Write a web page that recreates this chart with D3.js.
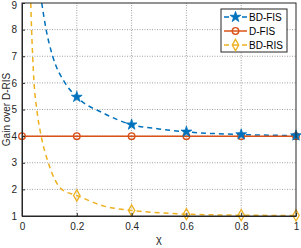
<!DOCTYPE html>
<html>
<head>
<meta charset="utf-8">
<script src="https://cdn.jsdelivr.net/npm/d3@7"></script>
<style>
  body { margin: 0; background: #fff; }
  svg { display: block; font-family: "Liberation Sans", Arial, sans-serif; }
</style>
</head>
<body>
<div id="chart"></div>
<script>
// marker points
var chi = [0.2, 0.4, 0.6, 0.8, 1];
var bdFis = [5.47, 4.43, 4.16, 4.06, 4.02];
var dFis = [4, 4, 4, 4, 4, 4];
var dFisX = [0, 0.2, 0.4, 0.6, 0.8, 1];
var bdRis = [1.77, 1.21, 1.07, 1.03, 1.02];

// dashed curves
var bdFisCurveX = [0.072, 0.088, 0.112, 0.157, 0.2, 0.3, 0.4, 0.5, 0.6, 0.8, 1];
var bdFisCurveY = [9, 8, 7, 6, 5.47, 4.85, 4.43, 4.27, 4.16, 4.06, 4.02];
var bdRisCurveX = [0.032, 0.035, 0.039, 0.044, 0.054, 0.07, 0.096, 0.145, 0.2, 0.3, 0.4, 0.5, 0.6, 0.8, 1];
var bdRisCurveY = [9, 8, 7, 6, 5, 4, 3, 2, 1.77, 1.37, 1.21, 1.12, 1.07, 1.03, 1.02];

var xTicks = [0, 0.2, 0.4, 0.6, 0.8, 1];
var yTicks = [1, 2, 3, 4, 5, 6, 7, 8, 9];

var W = 301, H = 248;
var x = d3.scaleLinear().domain([0, 1]).range([22, 296]);
var y = d3.scaleLinear().domain([1, 9]).range([216, 3]);

var svg = d3.select("#chart").append("svg").attr("width", W).attr("height", H);

// grid
svg.append("g").selectAll("line").data(xTicks.slice(1, -1)).enter().append("line")
    .attr("x1", function(d) { return x(d); }).attr("x2", function(d) { return x(d); })
    .attr("y1", y(1)).attr("y2", y(9))
    .attr("stroke", "#262626").attr("stroke-opacity", 0.55).attr("stroke-width", 0.8)
    .attr("stroke-dasharray", "1,1.5");
svg.append("g").selectAll("line").data(yTicks.slice(1, -1)).enter().append("line")
    .attr("x1", x(0)).attr("x2", x(1))
    .attr("y1", function(d) { return y(d); }).attr("y2", function(d) { return y(d); })
    .attr("stroke", "#262626").attr("stroke-opacity", 0.55).attr("stroke-width", 0.8)
    .attr("stroke-dasharray", "1,1.5");

svg.append("clipPath").attr("id", "clip").append("rect")
    .attr("x", x(0)).attr("y", y(9)).attr("width", x(1) - x(0)).attr("height", y(1) - y(9));

var blue = "#0072BD", orange = "#D95319", yellow = "#EDB120";

var line = d3.line().curve(d3.curveMonotoneX);
var plot = svg.append("g").attr("clip-path", "url(#clip)");

function pts(xs, ys) { return xs.map(function(v, i) { return [x(v), y(ys[i])]; }); }

plot.append("path").attr("d", line(pts(bdRisCurveX, bdRisCurveY)))
    .attr("fill", "none").attr("stroke", yellow).attr("stroke-width", 1.5).attr("stroke-dasharray", "5,4");
plot.append("path").attr("d", line(pts(bdFisCurveX, bdFisCurveY)))
    .attr("fill", "none").attr("stroke", blue).attr("stroke-width", 1.5).attr("stroke-dasharray", "5,4");
plot.append("path").attr("d", d3.line()(pts(dFisX, dFis)))
    .attr("fill", "none").attr("stroke", orange).attr("stroke-width", 1.5);

var star = d3.symbol().type(d3.symbolStar).size(36);
var diamond = d3.symbol().type(d3.symbolDiamond).size(36);
var circle = d3.symbol().type(d3.symbolCircle).size(34);

function shape(kind) { return kind === "circle" ? circle() : (kind === "star" ? star() : diamond()); }

function markers(xs, ys, kind, color) {
  svg.append("g").selectAll("path").data(xs).enter().append("path")
    .attr("transform", function(d, i) { return "translate(" + x(d) + "," + y(ys[i]) + ")"; })
    .attr("d", shape(kind))
    .attr("fill", kind === "star" ? color : "none")
    .attr("stroke", color).attr("stroke-width", kind === "star" ? 0.8 : 1.3);
}
markers(dFisX, dFis, "circle", orange);
markers(chi, bdRis, "diamond", yellow);
markers(chi, bdFis, "star", blue);

// axes box
svg.append("rect").attr("x", x(0)).attr("y", y(9)).attr("width", x(1) - x(0)).attr("height", y(1) - y(9))
    .attr("fill", "none").attr("stroke", "#262626").attr("stroke-width", 1);

var xAxis = svg.append("g").attr("transform", "translate(0," + y(1) + ")")
    .call(d3.axisBottom(x).tickValues(xTicks).tickSizeInner(-3).tickSizeOuter(0).tickPadding(7)
      .tickFormat(function(d) { return d === 0 || d === 1 ? d3.format("d")(d) : d3.format(".1f")(d); }));
var yAxis = svg.append("g").attr("transform", "translate(" + x(0) + ",0)")
    .call(d3.axisLeft(y).tickValues(yTicks).tickSizeInner(-3).tickSizeOuter(0).tickPadding(5));
[xAxis, yAxis].forEach(function(a) {
  a.select(".domain").attr("stroke", "#262626");
  a.selectAll(".tick line").attr("stroke", "#262626");
  a.selectAll("text").attr("fill", "#262626").attr("font-size", 10)
    .attr("font-family", "Liberation Sans, Arial, sans-serif");
});
yAxis.selectAll(".tick text").filter(function(d) { return d === 9; }).attr("dy", "0.5em");

svg.append("text").attr("x", x(0.5)).attr("y", 243).attr("text-anchor", "middle")
    .attr("font-size", 11).attr("fill", "#262626").text("χ");
svg.append("text").attr("transform", "translate(9.5," + y(5) + ") rotate(-90)")
    .attr("text-anchor", "middle").attr("font-size", 10).attr("fill", "#262626").text("Gain over D-RIS");

// legend
var names = ["BD-FIS", "D-FIS", "BD-RIS"];
var colors = [blue, orange, yellow];
var kinds = ["star", "circle", "diamond"];
var lg = svg.append("g").attr("transform", "translate(221,9)");
lg.append("rect").attr("width", 66).attr("height", 43).attr("fill", "#fff").attr("stroke", "#262626").attr("stroke-width", 1);
names.forEach(function(n, i) {
  var g = lg.append("g").attr("transform", "translate(0," + (8 + i * 14) + ")");
  g.append("line").attr("x1", 3).attr("x2", 26).attr("stroke", colors[i]).attr("stroke-width", 1.5)
    .attr("stroke-dasharray", kinds[i] === "circle" ? null : "5,4");
  g.append("path").attr("transform", "translate(14.5,0)")
    .attr("d", shape(kinds[i]))
    .attr("fill", kinds[i] === "star" ? colors[i] : "none").attr("stroke", colors[i])
    .attr("stroke-width", kinds[i] === "star" ? 0.8 : 1.3);
  g.append("text").attr("x", 28).attr("dy", "0.35em").attr("font-size", 10).attr("fill", "#000").text(n);
});
</script>
</body>
</html>
